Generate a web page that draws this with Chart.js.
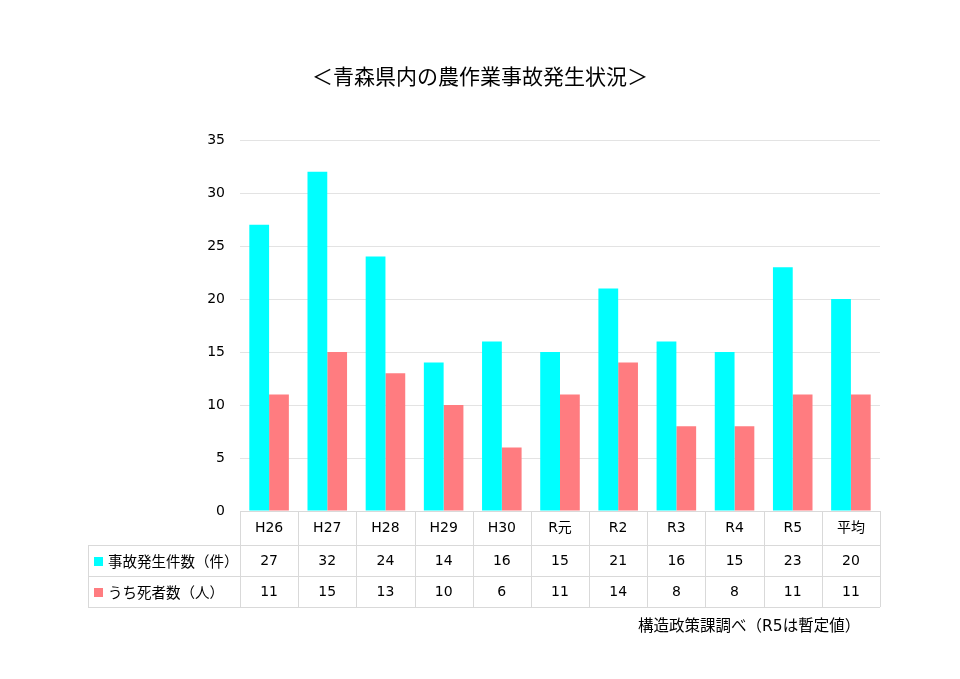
<!DOCTYPE html>
<html>
<head>
<meta charset="utf-8">
<script src="https://cdn.jsdelivr.net/npm/chart.js@4.4.1/dist/chart.umd.min.js"></script>
<style>
html,body{margin:0;padding:0;background:#fff;}
#wrap{position:relative;width:960px;height:679px;}
</style>
</head>
<body>
<div id="wrap"><canvas id="c" width="960" height="679"></canvas></div>
<script>
const categories = ['H26','H27','H28','H29','H30','R元','R2','R3','R4','R5','平均'];
const accidents = [27,32,24,14,16,15,21,16,15,23,20];
const deaths = [11,15,13,10,6,11,14,8,8,11,11];
const seriesNames = ['事故発生件数（件）','うち死者数（人）'];
const titleText = '＜青森県内の農作業事故発生状況＞';
const sourceText = '構造政策課調べ（R5は暫定値）';
const yMax = 35, yStep = 5;

const FONT = '"DejaVu Sans", "Noto Sans CJK JP", sans-serif';
const CJK = '"Noto Sans CJK JP", sans-serif';
const colors = ['#00FFFF', '#FF7C80'];
const lineColor = '#D9D9D9';

const tablePlugin = {
  id: 'tablePlugin',
  afterDraw(chart) {
    const ctx = chart.ctx;
    const area = chart.chartArea;
    const xs = chart.scales.x;
    const n = categories.length;
    const cw = (area.right - area.left) / n;
    const top = area.bottom;
    const r1 = top + 34, r2 = r1 + 31, r3 = r2 + 31;
    const labelLeft = 88;
    ctx.save();
    // title
    ctx.fillStyle = '#000';
    ctx.font = '21px ' + CJK;
    ctx.textAlign = 'center';
    ctx.textBaseline = 'middle';
    ctx.fillText(titleText, 480, 76);
    // lines
    ctx.strokeStyle = lineColor;
    ctx.lineWidth = 1;
    ctx.beginPath();
    ctx.moveTo(area.left, top + 0.5); ctx.lineTo(area.right, top + 0.5);
    [r1, r2, r3].forEach(y => { ctx.moveTo(labelLeft, y + 0.5); ctx.lineTo(area.right, y + 0.5); });
    ctx.moveTo(labelLeft + 0.5, r1); ctx.lineTo(labelLeft + 0.5, r3);
    for (let i = 0; i <= n; i++) {
      const x = Math.round(area.left + i * cw) + 0.5;
      ctx.moveTo(x, top); ctx.lineTo(x, r3);
    }
    ctx.stroke();
    // header labels and values
    ctx.fillStyle = '#000';
    ctx.font = '14px ' + FONT;
    ctx.textAlign = 'center';
    categories.forEach((c, i) => {
      const x = xs.getPixelForValue(i);
      ctx.fillText(c, x, (top + r1) / 2);
      ctx.fillText(String(accidents[i]), x, (r1 + r2) / 2 + 1);
      ctx.fillText(String(deaths[i]), x, (r2 + r3) / 2 + 1);
    });
    // row labels
    ctx.textAlign = 'left';
    ctx.font = '14.5px ' + CJK;
    [[(r1 + r2) / 2, 0], [(r2 + r3) / 2, 1]].forEach(([y, k]) => {
      ctx.fillStyle = colors[k];
      ctx.fillRect(94, Math.round(y) - 4, 9, 9);
      ctx.fillStyle = '#000';
      ctx.fillText(seriesNames[k], 108, y + 1);
    });
    // source
    ctx.font = '15.5px ' + FONT;
    ctx.textAlign = 'left';
    ctx.fillText(sourceText, 638, 627);
    ctx.restore();
  }
};

new Chart(document.getElementById('c'), {
  type: 'bar',
  data: {
    labels: categories,
    datasets: [
      { label: seriesNames[0], data: accidents, backgroundColor: colors[0], borderWidth: 0 },
      { label: seriesNames[1], data: deaths, backgroundColor: colors[1], borderWidth: 0 }
    ]
  },
  options: {
    responsive: false,
    animation: false,
    devicePixelRatio: 1,
    layout: { padding: { left: 0, top: 140, right: 80, bottom: 168 } },
    datasets: { bar: { categoryPercentage: 0.68, barPercentage: 1.0 } },
    plugins: { legend: { display: false }, title: { display: false }, tooltip: { enabled: false } },
    scales: {
      x: { display: false },
      y: {
        min: 0, max: yMax,
        border: { display: false },
        grid: { color: '#E3E3E3', drawTicks: false, tickLength: 0 },
        ticks: { stepSize: yStep, padding: 15, color: '#000', font: { family: FONT, size: 14 } },
        afterFit(scale) { scale.width = 240; }
      }
    }
  },
  plugins: [tablePlugin]
});
</script>
</body>
</html>
